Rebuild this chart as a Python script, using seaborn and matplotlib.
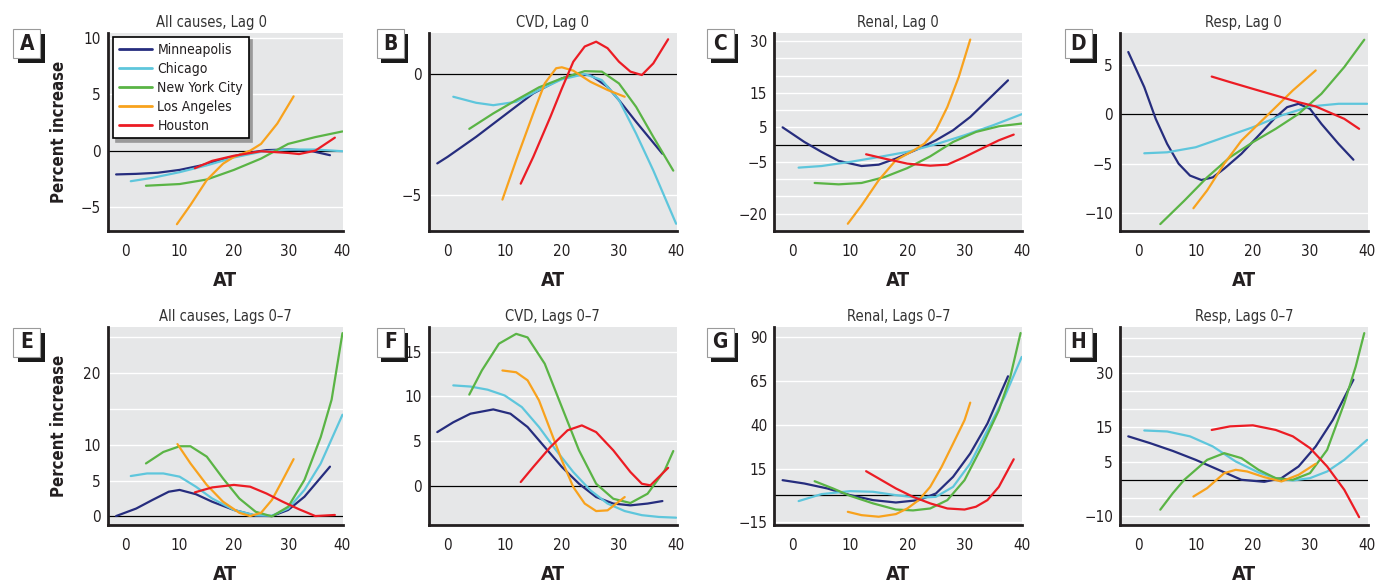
import numpy as np
import pandas as pd
import matplotlib
matplotlib.use("Agg")
import matplotlib.pyplot as plt
from matplotlib.patches import Rectangle
from matplotlib.ticker import FixedLocator
import seaborn as sns

# ---------------- data ----------------
CITIES = ["Minneapolis", "Chicago", "New York City", "Los Angeles", "Houston"]
COLORS = ["#262d7e", "#5ec6dc", "#5ab445", "#f8a21d", "#ec1c24"]

# Panel A: All causes, Lag 0
A_DATA = {
    "Minneapolis": ([-1.7, 2, 6, 10, 14, 18, 22, 26, 30, 34, 37.7],
                    [-2.1, -2.05, -1.95, -1.7, -1.3, -0.75, -0.25, 0.05, 0.1, 0.0, -0.4]),
    "Chicago": ([1, 5, 10, 15, 20, 25, 30, 35, 40],
                [-2.7, -2.4, -1.9, -1.3, -0.6, -0.1, 0.1, 0.1, -0.05]),
    "New York City": ([3.8, 10, 15, 20, 25, 30, 35, 40],
                      [-3.1, -2.95, -2.55, -1.7, -0.7, 0.6, 1.2, 1.7]),
    "Los Angeles": ([9.5, 12, 15, 18, 20, 23, 25, 28, 31],
                    [-6.5, -4.8, -2.6, -1.15, -0.55, 0.0, 0.6, 2.4, 4.8]),
    "Houston": ([12.8, 16, 20, 25, 30, 32, 35, 38.6],
                [-1.55, -0.9, -0.45, -0.05, -0.2, -0.3, 0.0, 1.15]),
}
# Panel B: CVD, Lag 0
B_DATA = {
    "Minneapolis": ([-1.8, 0, 5, 10, 15, 20, 22, 25, 28, 30, 33, 37.6],
                    [-3.7, -3.43, -2.6, -1.7, -0.8, -0.18, -0.04, -0.04, -0.53, -1.08, -1.98, -3.3]),
    "Chicago": ([1, 5, 8, 12, 16, 20, 24, 27, 30, 33, 36, 40],
                [-0.94, -1.19, -1.29, -1.15, -0.66, -0.22, 0.0, -0.25, -1.08, -2.47, -3.99, -6.2]),
    "New York City": ([3.8, 8, 12, 16, 20, 24, 27, 30, 33, 36, 39.5],
                      [-2.27, -1.63, -1.08, -0.55, -0.18, 0.12, 0.1, -0.39, -1.36, -2.6, -4.0]),
    "Los Angeles": ([9.6, 12, 15, 17, 19, 20, 22, 25, 28, 31],
                    [-5.2, -3.57, -1.63, -0.39, 0.24, 0.28, 0.14, -0.32, -0.66, -0.94]),
    "Houston": ([12.8, 15, 18, 20, 22, 24, 26, 28, 30, 32, 34, 36, 38.6],
                [-4.54, -3.43, -1.77, -0.6, 0.51, 1.14, 1.34, 1.07, 0.51, 0.1, -0.04, 0.44, 1.44]),
}
# Panel C: Renal, Lag 0
C_DATA = {
    "Minneapolis": ([-1.8, 2, 5, 8, 12, 15, 18, 22, 25, 28, 31, 34, 37.6],
                    [5.0, 0.77, -2.1, -4.7, -6.2, -5.8, -4.05, -1.16, 1.25, 4.15, 8.0, 12.8, 18.6]),
    "Chicago": ([1, 5, 10, 15, 20, 25, 30, 35, 40],
                [-6.66, -6.2, -5.0, -3.6, -2.1, 0.1, 2.7, 5.6, 8.8]),
    "New York City": ([3.8, 8, 12, 16, 20, 24, 28, 32, 36, 40],
                      [-11.1, -11.5, -11.1, -9.4, -6.8, -3.4, 0.77, 3.67, 5.3, 6.1]),
    "Los Angeles": ([9.6, 12, 15, 18, 21, 23, 25, 27, 29, 31],
                    [-22.9, -17.6, -10.3, -4.5, -1.8, 0.3, 4.15, 10.9, 19.6, 30.4]),
    "Houston": ([12.8, 16, 20, 24, 27, 30, 33, 36, 38.6],
                [-2.8, -4.05, -5.5, -6.1, -5.8, -3.6, -1.16, 1.25, 2.9]),
}
# Panel D: Resp, Lag 0
D_DATA = {
    "Minneapolis": ([-1.8, 1, 3, 5, 7, 9, 11, 13, 15, 18, 21, 24, 26, 28, 30, 32, 35, 37.6],
                    [6.28, 2.73, -0.47, -3.0, -5.0, -6.2, -6.65, -6.38, -5.5, -4.0, -2.16,
                     -0.3, 0.71, 1.05, 0.54, -0.98, -3.0, -4.6]),
    "Chicago": ([1, 5, 10, 15, 20, 25, 30, 35, 40],
                [-3.95, -3.85, -3.34, -2.33, -1.32, -0.13, 0.78, 1.05, 1.05]),
    "New York City": ([3.8, 8, 12, 16, 20, 24, 28, 32, 36, 39.5],
                      [-11.1, -8.74, -6.38, -4.35, -2.83, -1.48, 0.03, 2.06, 4.76, 7.52]),
    "Los Angeles": ([9.6, 12, 15, 18, 21, 24, 27, 31],
                    [-9.5, -7.7, -5.0, -2.67, -0.98, 0.71, 2.4, 4.42]),
    "Houston": ([12.8, 16, 20, 24, 28, 31, 34, 36, 38.6],
                [3.8, 3.24, 2.56, 1.89, 1.21, 0.78, 0.03, -0.47, -1.48]),
}
# Panel E: All causes, Lags 0-7
E_DATA = {
    "Minneapolis": ([-1.7, 2, 5, 8, 10, 13, 16, 20, 24, 27, 30, 33, 37.7],
                    [0.05, 1.1, 2.3, 3.45, 3.7, 3.1, 2.05, 0.9, 0.1, 0.05, 0.9, 2.75, 6.95]),
    "Chicago": ([1, 4, 7, 10, 13, 16, 20, 24, 27, 30, 33, 36, 40],
                [5.64, 6.0, 6.0, 5.55, 4.15, 2.5, 0.9, 0.15, 0.1, 1.1, 3.7, 7.4, 14.2]),
    "New York City": ([3.8, 7, 10, 12, 15, 18, 21, 24, 27, 30, 33, 36, 38, 40],
                      [7.4, 9.0, 9.8, 9.8, 8.35, 5.3, 2.5, 0.65, 0.0, 1.35, 5.1, 11.1, 16.3, 25.6]),
    "Los Angeles": ([9.6, 12, 15, 18, 21, 23, 25, 27, 29, 31],
                    [10.1, 7.4, 4.4, 2.05, 0.5, 0.05, 0.5, 2.3, 5.1, 8.0]),
    "Houston": ([12.8, 16, 20, 23, 26, 29, 32, 35, 38.6],
                [3.36, 4.05, 4.4, 4.15, 3.2, 2.05, 1.0, 0.05, 0.2]),
}
# Panel F: CVD, Lags 0-7
F_DATA = {
    "Minneapolis": ([-1.8, 1, 4, 8, 11, 14, 17, 20, 23, 26, 29, 32, 35, 37.6],
                    [6.0, 7.1, 8.06, 8.54, 8.06, 6.57, 4.33, 2.1, 0.22, -1.27, -2.0, -2.2, -2.0, -1.72]),
    "Chicago": ([1, 4, 7, 10, 13, 16, 19, 22, 25, 28, 31, 34, 37, 40],
                [11.23, 11.1, 10.75, 10.1, 8.8, 6.57, 3.96, 1.53, -0.52, -2.0, -2.84, -3.3, -3.5, -3.58]),
    "New York City": ([3.8, 6, 9, 12, 14, 17, 20, 23, 26, 29, 32, 35, 38, 39.5],
                      [10.2, 12.9, 15.9, 17.0, 16.6, 13.66, 8.8, 3.96, 0.22, -1.46, -1.94, -0.9, 1.72, 3.88]),
    "Los Angeles": ([9.6, 12, 14, 16, 18, 20, 22, 24, 26, 28, 31],
                    [12.9, 12.7, 11.8, 9.55, 6.2, 2.84, -0.15, -2.0, -2.84, -2.76, -1.27]),
    "Houston": ([12.8, 15, 18, 21, 23.5, 26, 29, 32, 34, 35.5, 38.6],
                [0.41, 2.1, 4.33, 6.2, 6.75, 6.0, 3.96, 1.53, 0.22, 0.04, 2.0]),
}
# Panel G: Renal, Lags 0-7
G_DATA = {
    "Minneapolis": ([-1.8, 2, 6, 10, 14, 18, 22, 25, 28, 31, 34, 37.6],
                    [8.7, 6.8, 4.0, 0.2, -2.65, -4.0, -2.65, 1.14, 10.6, 23.9, 40.9, 67.8]),
    "Chicago": ([1, 5, 10, 14, 18, 22, 25, 28, 31, 34, 37, 40],
                [-3.2, 0.76, 2.46, 2.1, 0.19, -1.33, -0.76, 4.9, 18.2, 37.1, 56.1, 78.8]),
    "New York City": ([3.8, 7, 10, 14, 18, 21, 24, 27, 30, 33, 36, 38, 39.8],
                      [8.1, 4.0, -0.2, -4.5, -8.0, -8.5, -7.4, -2.65, 8.7, 27.6, 48.5, 67.4, 92.4]),
    "Los Angeles": ([9.6, 12, 15, 18, 20, 22, 24, 26, 28, 30, 31],
                    [-9.3, -11.2, -12.1, -10.6, -7.4, -2.65, 4.9, 16.3, 29.5, 42.8, 52.8]),
    "Houston": ([12.8, 15, 18, 21, 24, 27, 30, 32, 34, 36, 38.6],
                [13.8, 9.66, 4.0, -0.76, -4.5, -7.4, -8.0, -6.4, -2.65, 4.9, 20.6]),
}
# Panel H: Resp, Lags 0-7
H_DATA = {
    "Minneapolis": ([-1.8, 2, 6, 10, 14, 18, 22, 25, 28, 31, 34, 37.6],
                    [12.3, 10.4, 8.2, 5.7, 2.9, 0.1, -0.47, 0.56, 3.84, 9.46, 16.9, 28.2]),
    "Chicago": ([1, 5, 9, 13, 17, 21, 24, 27, 30, 33, 36, 40],
                [13.95, 13.67, 12.3, 9.46, 5.24, 2.15, 0.56, -0.1, 0.56, 2.43, 5.7, 11.3]),
    "New York City": ([3.8, 6, 8, 10, 12, 15, 18, 21, 24, 27, 30, 33, 36, 38, 39.5],
                      [-8.3, -3.65, 0.1, 2.9, 5.7, 7.58, 6.18, 2.9, 0.56, 0.1, 1.97, 8.5, 21.6, 31.9, 41.3]),
    "Los Angeles": ([9.6, 12, 15, 17, 19, 22, 25, 28, 31],
                    [-4.6, -2.25, 1.97, 2.9, 2.43, 0.84, -0.37, 1.5, 4.6]),
    "Houston": ([12.8, 16, 20, 24, 27, 30, 33, 36, 38.6],
                [14.1, 15.1, 15.4, 14.1, 12.3, 9.0, 3.84, -2.7, -10.4]),
}

PANEL_LETTERS = ["A", "B", "C", "D", "E", "F", "G", "H"]
PANEL_TITLES = ["All causes, Lag 0", "CVD, Lag 0", "Renal, Lag 0", "Resp, Lag 0",
                "All causes, Lags 0\u20137", "CVD, Lags 0\u20137", "Renal, Lags 0\u20137", "Resp, Lags 0\u20137"]
PANEL_DATA = [A_DATA, B_DATA, C_DATA, D_DATA, E_DATA, F_DATA, G_DATA, H_DATA]
Y_TICKS = [[-5, 0, 5, 10], [-5, 0], [-20, -5, 5, 15, 30], [-10, -5, 0, 5],
           [0, 5, 10, 20], [0, 5, 10, 15], [-15, 15, 40, 65, 90], [-10, 5, 15, 30]]
Y_GRID = [[-5, 5, 10], [-5], list(range(-25, 35, 5)), [-10, -5, 5],
          [5, 10, 15, 20, 25], [5, 10, 15], [-15, 15, 40, 65, 90], list(range(-10, 45, 5))]
Y_LIMS = [(-7.1, 10.4), (-6.5, 1.7), (-25, 32.3), (-11.8, 8.2),
          (-1.2, 26.5), (-4.4, 17.8), (-16.8, 96), (-12.6, 43.1)]
X_TICKS = [0, 10, 20, 30, 40]

# ---------------- styling ----------------
sns.set_theme(style="white")
FONT = ["DejaVu Sans Condensed", "DejaVu Sans"]
plt.rcParams["font.family"] = FONT
plt.rcParams["font.stretch"] = "condensed"
plt.rcParams["axes.unicode_minus"] = True

W, H = 1378, 584
fig = plt.figure(figsize=(W / 100, H / 100), dpi=100)

BG = "#e6e7e8"
INK = "#231f20"

# axes rectangles in pixels: (left, top, width, height)
lefts = [107.7, 429.0, 774.3, 1120.0]
widths = [235.3, 247.7, 248.0, 247.7]
tops = [33.0, 326.7]
heights = [198.0, 198.3]
box_x = [13.3, 376.7, 706.7, 1065.0]
box_y = [29.3, 327.7]

palette = dict(zip(CITIES, COLORS))

for i in range(8):
    r, c = divmod(i, 4)
    l, w = lefts[c], widths[c]
    t, h = tops[r], heights[r]
    ax = fig.add_axes([l / W, 1 - (t + h) / H, w / W, h / H])
    ax.set_facecolor(BG)

    rows = []
    for city in CITIES:
        xs, ys = PANEL_DATA[i][city]
        for x, y in zip(xs, ys):
            rows.append({"AT": x, "pct": y, "city": city})
    df = pd.DataFrame(rows)

    sns.lineplot(data=df, x="AT", y="pct", hue="city", hue_order=CITIES,
                 palette=palette, sort=False, estimator=None, lw=1.6,
                 ax=ax, legend=(i == 0), zorder=3)

    ax.set_xlim(-3.25, 40.1)
    ax.set_ylim(*Y_LIMS[i])
    ax.set_xticks(X_TICKS)
    ax.set_xticklabels([str(v) for v in X_TICKS])
    ax.set_yticks(Y_TICKS[i])
    ax.set_yticklabels([str(v).replace("-", "\u2212") for v in Y_TICKS[i]])
    ax.yaxis.set_minor_locator(FixedLocator(Y_GRID[i]))
    ax.grid(False)
    ax.grid(True, which="both", axis="y", color="white", lw=1.0, zorder=1)
    ax.axhline(0, color="black", lw=0.9, zorder=2)

    for s in ["top", "right"]:
        ax.spines[s].set_visible(False)
    for s in ["left", "bottom"]:
        ax.spines[s].set_color(INK)
        ax.spines[s].set_linewidth(2.0)
    ax.tick_params(axis="x", which="major", direction="out", length=6, width=1.3,
                   color=INK, labelsize=11, pad=3, labelcolor=INK)
    ax.tick_params(axis="y", which="both", length=0, labelsize=11, pad=5, labelcolor=INK)
    ax.tick_params(axis="x", which="minor", length=0)

    ax.set_xlabel("AT", fontsize=14, fontweight="bold", color=INK)
    ax.xaxis.set_label_coords(0.5, -0.2)
    if c == 0:
        ax.set_ylabel("Percent increase", fontsize=12, fontweight="bold", color=INK)
        ax.yaxis.set_label_coords(-0.17, 0.5)
    else:
        ax.set_ylabel("")

    tx = 0.443 if i == 0 else 0.5
    ax.set_title(PANEL_TITLES[i], fontsize=10.5, color="#333333", pad=4, x=tx)

    if i == 0:
        leg = ax.legend(loc="upper left", bbox_to_anchor=(0.0225, 0.98), borderaxespad=0,
                        frameon=True, fancybox=False, edgecolor="black", framealpha=1,
                        fontsize=10, handlelength=2.4, handletextpad=0.4,
                        labelspacing=0.36, borderpad=0.4,
                        shadow={"color": "#9a9a9a", "alpha": 1.0, "ox": 2.5, "oy": -2.5})
        leg.get_frame().set_linewidth(1.2)
        for line in leg.get_lines():
            line.set_linewidth(2.0)
        for txt in leg.get_texts():
            txt.set_color(INK)

    # panel letter box with shadow
    bx, by = box_x[c], box_y[r]
    bw, bh = 27.0, 29.0
    fig.add_artist(Rectangle(((bx + 4.5) / W, 1 - (by + bh + 5) / H), bw / W, bh / H,
                             transform=fig.transFigure, facecolor="#1a1a1a",
                             edgecolor="none", zorder=5))
    fig.add_artist(Rectangle((bx / W, 1 - (by + bh) / H), bw / W, bh / H,
                             transform=fig.transFigure, facecolor="white",
                             edgecolor="#9a9a9a", lw=0.8, zorder=6))
    fig.text((bx + bw / 2) / W, 1 - (by + bh / 2) / H, PANEL_LETTERS[i],
             ha="center", va="center", fontsize=15, fontweight="bold",
             color=INK, zorder=7)

fig.savefig("out.png", dpi=100)
